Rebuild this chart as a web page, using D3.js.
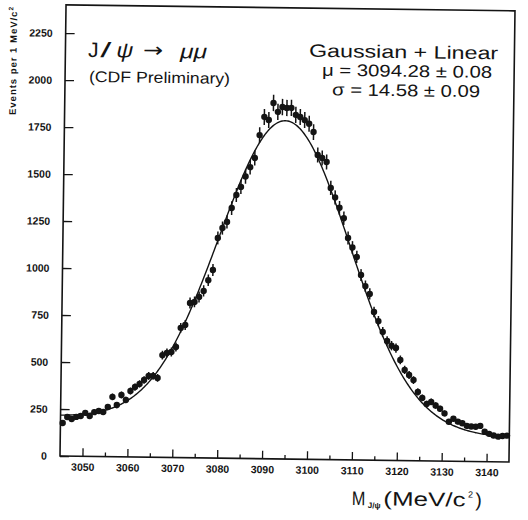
<!DOCTYPE html>
<html>
<head>
<meta charset="utf-8">
<script src="https://cdn.jsdelivr.net/npm/d3@7"></script>
<style>
  html, body { margin: 0; padding: 0; background: #fff; }
  svg { display: block; }
</style>
</head>
<body>
<svg id="chart" width="528" height="520"></svg>
<script>
// Dimuon invariant mass, 1 MeV bins from 3045 to 3145 MeV/c^2
const binLow = 3045;
const binWidth = 1;
const counts = [
  176, 208, 198, 209, 214, 231, 215, 236, 242, 237,
  264, 318, 275, 329, 303, 351, 372, 389, 410, 432,
  433, 422, 544, 556, 561, 588, 690, 706, 823, 829,
  856, 888, 945, 1000, 1171, 1224, 1257, 1331, 1401, 1444,
  1500, 1550, 1599, 1721, 1818, 1802, 1893, 1846, 1872, 1867,
  1868, 1831, 1820, 1804, 1785, 1741, 1619, 1604, 1583, 1445,
  1395, 1340, 1285, 1180, 1130, 1080, 984, 925, 884, 788,
  740, 683, 635, 610, 598, 535, 482, 456, 429, 366,
  335, 303, 314, 295, 278, 254, 210, 226, 211, 203,
  189, 186, 185, 190, 160, 148, 140, 134, 138, 140
];
const massBins = counts.map((_, i) => binLow + binWidth * (i + 0.5));

// Axis ticks
const xTicks = [3050, 3060, 3070, 3080, 3090, 3100, 3110, 3120, 3130, 3140];
const xMinorTicks = [3055, 3065, 3075, 3085, 3095, 3105, 3115, 3125, 3135];
const yTicks = [0, 250, 500, 750, 1000, 1250, 1500, 1750, 2000, 2250];

// Gaussian + linear fit
const fitMu = 3094.28;
const fitSigma = 14.58;
const fitAmplitude = 1629;
const fitBackground = [212, -0.85]; // value at 3045, slope per MeV

const fitText = ["Gaussian + Linear", "\u03bc = 3094.28 \u00b1 0.08", "\u03c3 = 14.58 \u00b1 0.09"];

const ink = "#141414";
const svg = d3.select("#chart");
svg.append("rect").attr("width", 528).attr("height", 520).attr("fill", "#fff");

const x = d3.scaleLinear().domain([3045, 3145]).range([60, 509]);
const y = d3.scaleLinear().domain([0, 2400]).range([456, 4.8]);

// the whole plot sits at a slight clockwise tilt around the origin corner
const tilt = Math.atan(6 / 449) * 180 / Math.PI;
const g = svg.append("g")
  .attr("transform", `rotate(${tilt},${x(3045)},${y(0)})`);

// frame
g.append("rect")
  .attr("x", x(3045)).attr("y", y(2400))
  .attr("width", x(3145) - x(3045)).attr("height", y(0) - y(2400))
  .attr("fill", "none").attr("stroke", ink).attr("stroke-width", 1.6);

const tickFont = "'Liberation Sans', Arial, sans-serif";

// x axis
const xAxis = g.append("g").attr("transform", `translate(0,${y(0)})`)
  .call(d3.axisBottom(x).tickValues(xTicks).tickSize(-8).tickPadding(7).tickFormat(d3.format("d")));
const xMinor = g.append("g").attr("transform", `translate(0,${y(0)})`)
  .call(d3.axisBottom(x).tickValues(xMinorTicks).tickSize(-4).tickFormat(""));

// y axis
const yAxis = g.append("g").attr("transform", `translate(${x(3045)},0)`)
  .call(d3.axisLeft(y).tickValues(yTicks).tickSize(-9).tickPadding(13).tickFormat(d3.format("d")));

[xAxis, xMinor, yAxis].forEach(a => {
  a.select(".domain").remove();
  a.selectAll(".tick line").attr("stroke", ink).attr("stroke-width", 1.3);
  a.selectAll(".tick text")
    .attr("fill", ink)
    .style("font-family", tickFont)
    .style("font-size", "10.5px")
    .style("font-weight", "bold");
});

// fit curve
const curveSamples = d3.range(3045, 3145.001, 0.25);
const fitValue = m =>
  fitBackground[0] + fitBackground[1] * (m - 3045) +
  fitAmplitude * Math.exp(-0.5 * Math.pow((m - fitMu) / fitSigma, 2));
g.append("path")
  .datum(curveSamples)
  .attr("fill", "none")
  .attr("stroke", ink)
  .attr("stroke-width", 1.4)
  .attr("d", d3.line().x(m => x(m)).y(m => y(fitValue(m))));

// data points with statistical errors
const pts = g.append("g").selectAll("g.pt")
  .data(counts.map((c, i) => ({ m: massBins[i], c })))
  .join("g").attr("class", "pt");
pts.append("line")
  .attr("x1", d => x(d.m)).attr("x2", d => x(d.m))
  .attr("y1", d => y(d.c - Math.sqrt(d.c))).attr("y2", d => y(d.c + Math.sqrt(d.c)))
  .attr("stroke", ink).attr("stroke-width", 1.5);
pts.append("line")
  .attr("x1", d => x(d.m - binWidth / 2)).attr("x2", d => x(d.m + binWidth / 2))
  .attr("y1", d => y(d.c)).attr("y2", d => y(d.c))
  .attr("stroke", ink).attr("stroke-width", 1.5);
pts.append("circle")
  .attr("cx", d => x(d.m)).attr("cy", d => y(d.c))
  .attr("r", 3.2).attr("fill", ink);

const textFont = "'Liberation Sans', Arial, sans-serif";

// y axis title
const yTitle = g.append("text")
  .attr("transform", "translate(11.2,115.6) rotate(-90)")
  .attr("fill", ink)
  .style("font-family", tickFont).style("font-size", "9.5px").style("font-weight", "bold")
  .attr("textLength", 108).attr("lengthAdjust", "spacing");
yTitle.append("tspan").text("Events per 1 MeV/c");
yTitle.append("tspan").attr("dy", -4).style("font-size", "6.5px").text("2");

// x axis title
const xt = g.append("g").attr("fill", ink).style("font-family", textFont);
xt.append("text").attr("x", 352.5).attr("y", 501).style("font-size", "19.5px")
  .attr("textLength", 13.5).attr("lengthAdjust", "spacingAndGlyphs").text("M");
xt.append("text").attr("x", 368.5).attr("y", 504).style("font-size", "8px").style("font-weight", "bold").text("J/\u03c8");
xt.append("text").attr("x", 384).attr("y", 501).style("font-size", "19.5px")
  .attr("textLength", 82).attr("lengthAdjust", "spacingAndGlyphs").text("(MeV/c");
xt.append("text").attr("x", 468.5).attr("y", 492).style("font-size", "9px").text("2");
xt.append("text").attr("x", 476).attr("y", 501).style("font-size", "19.5px").text(")");

// process label
const lab = g.append("g").attr("fill", ink).style("font-family", textFont);
lab.append("text").attr("x", 82.7).attr("y", 56.6).style("font-size", "21px").text("J");
lab.append("text").attr("x", 95).attr("y", 56.6).style("font-size", "21px")
  .attr("textLength", 11).attr("lengthAdjust", "spacingAndGlyphs").text("/");
lab.append("text").attr("x", 111).attr("y", 56.6).style("font-size", "21px")
  .style("font-style", "italic").attr("textLength", 17).attr("lengthAdjust", "spacingAndGlyphs").text("\u03c8");
lab.append("text").attr("x", 137.7).attr("y", 55.6).style("font-size", "20px")
  .style("font-family", "'DejaVu Sans', sans-serif")
  .attr("textLength", 20).attr("lengthAdjust", "spacingAndGlyphs").text("\u2192");
lab.append("text").attr("x", 174.7).attr("y", 56.6).style("font-size", "20px")
  .style("font-style", "italic").attr("textLength", 27).attr("lengthAdjust", "spacingAndGlyphs").text("\u03bc\u03bc");
lab.append("text").attr("x", 84).attr("y", 81.6).style("font-size", "15.5px")
  .attr("textLength", 141).attr("lengthAdjust", "spacingAndGlyphs").text("(CDF Preliminary)");

// fit summary
const fitPos = [
  { x: 303.7, y: 53.5, size: 18, len: 189 },
  { x: 316.9, y: 72.2, size: 16.8, len: 170 },
  { x: 327.2, y: 91.6, size: 16.8, len: 148 }
];
fitText.forEach((t, i) => {
  lab.append("text")
    .attr("x", fitPos[i].x).attr("y", fitPos[i].y)
    .style("font-size", fitPos[i].size + "px")
    .attr("textLength", fitPos[i].len).attr("lengthAdjust", "spacingAndGlyphs")
    .text(t);
});
</script>
</body>
</html>
